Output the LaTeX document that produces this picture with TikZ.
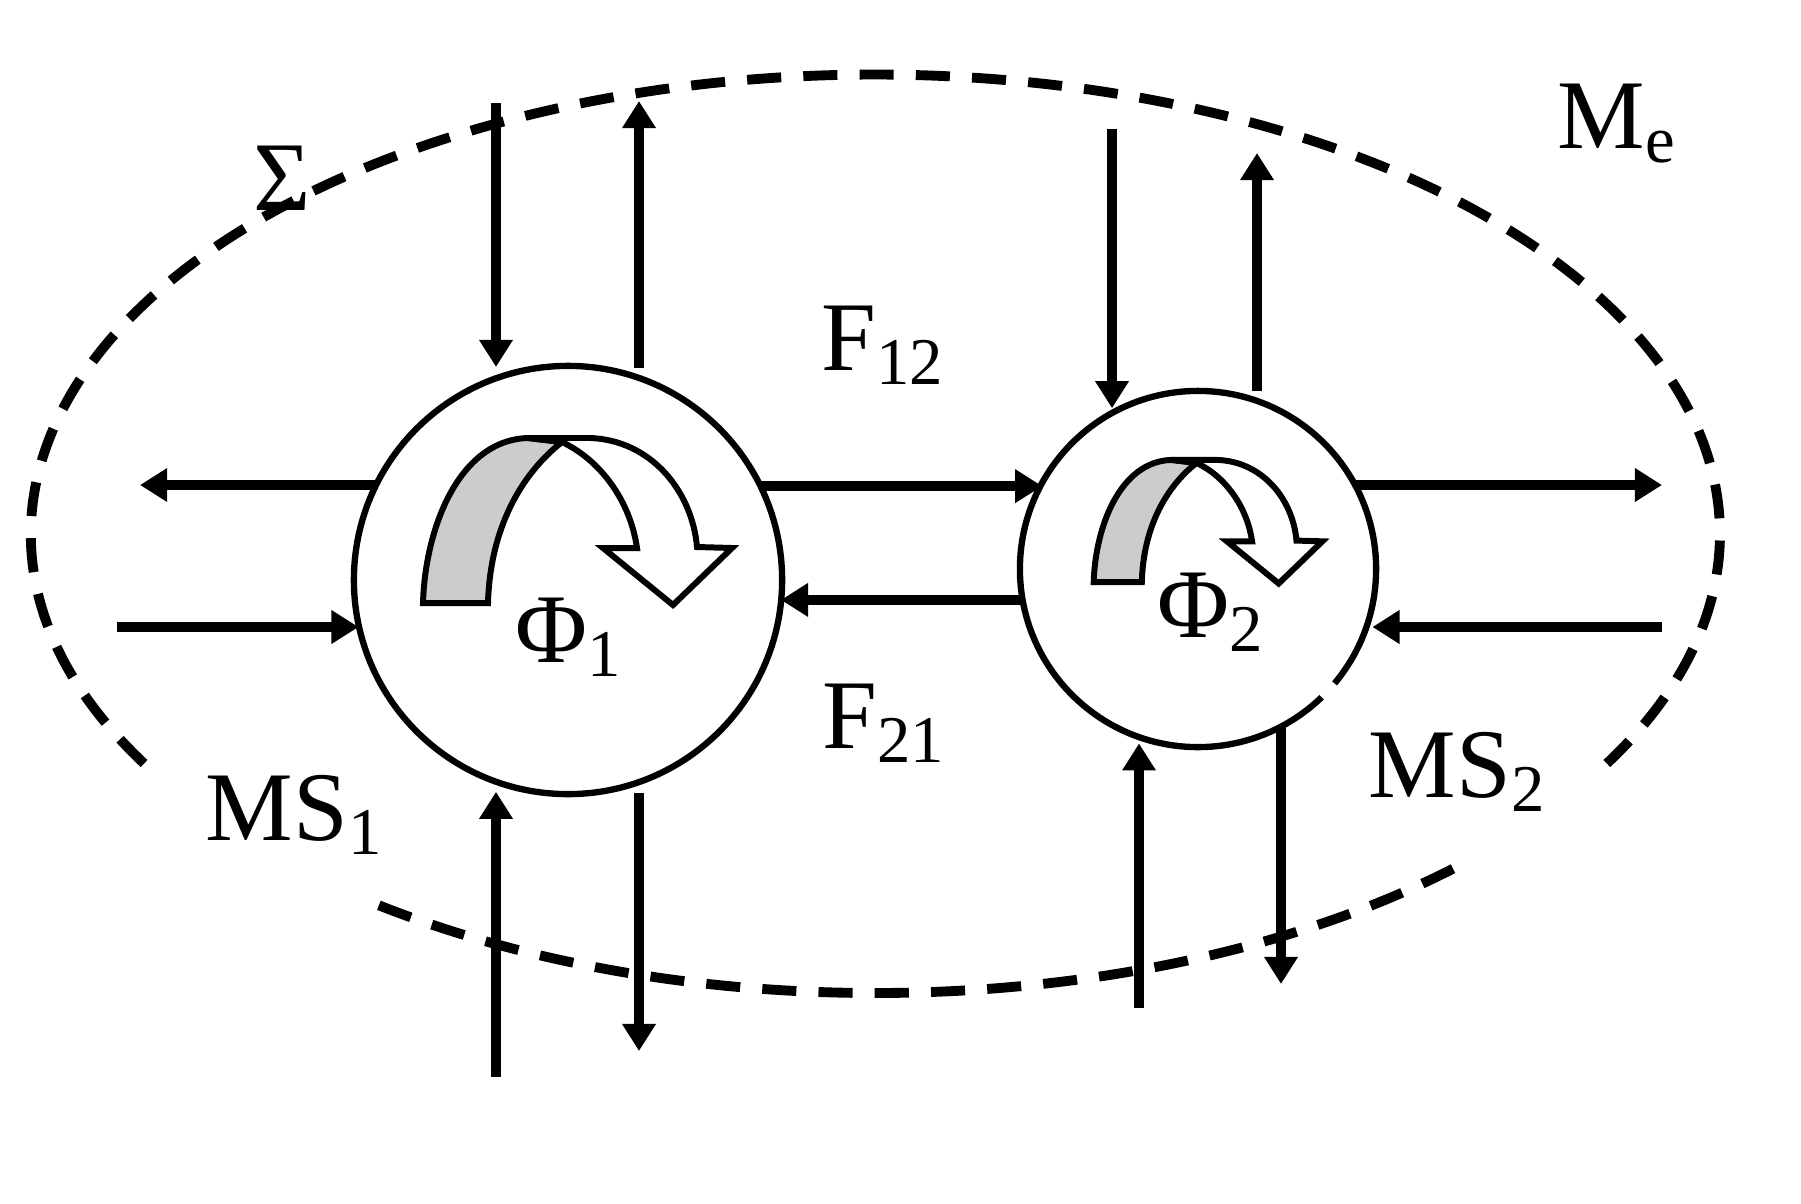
\documentclass[tikz,border=0pt]{standalone}
\usepackage{fontspec}
\setmainfont{Liberation Serif}
\usetikzlibrary{arrows.meta}
\definecolor{bandgray}{HTML}{CCCCCC}
\newcommand\sbs[1]{\raisebox{-0.14cm}{\fontsize{19}{22}\selectfont #1}}
\newcommand\twistarrow{%
  \filldraw[band, fill=bandgray] (-145,23) .. controls (-143,-50) and (-110,-140) .. (-40,-142) -- (-6,-138) .. controls (-48,-105) and (-78,-50) .. (-80,23) -- cycle;
  \filldraw[band, fill=white] (-40,-142) -- (22,-142) .. controls (82,-140) and (124,-90) .. (129,-33) -- (164,-32) -- (105,25) -- (35,-32) -- (69,-32) .. controls (62,-80) and (32,-120) .. (-6,-138) -- cycle;}
\begin{document}
\begin{tikzpicture}[x=0.01cm,y=-0.01cm,
  circ/.style={circle, draw, line width=1.8pt, inner sep=0pt, outer sep=0pt},
  arr/.style={line width=2.7pt, -{Triangle[length=7.7pt,width=9.1pt]}},
  band/.style={line width=1.7pt, line join=miter},
  sigma/.style={line width=2.8pt, dash pattern=on 9.7pt off 6.3pt},
  lab/.style={font=\fontsize{28}{34}\selectfont, inner sep=0pt, anchor=base west}]
\useasboundingbox (0,0) rectangle (1801,1203);
\fill[white] (0,0) rectangle (1801,1203);
% dashed boundary
\draw[sigma] (144.1,763.5) arc[start angle=210, end angle=-30, x radius=8.44cm, y radius=4.59cm];
\draw[sigma] (378.9,905.3) arc[start angle=234, end angle=314.7, x radius=8.44cm, y radius=4.59cm];
% subsystems
\node[circ, minimum size=4.28cm] (c1) at (568,580) {};
\node[circ, minimum size=3.56cm] (c2) at (1198,569) {};
\draw[white, line width=3pt] ([shift={(-46:1.78cm)}]c2.center) arc[start angle=-46, end angle=-40, radius=1.78cm];
% rotation arrows
\begin{scope}[shift={(568,580)}]
  \twistarrow
\end{scope}
\begin{scope}[shift={(1201,565)}, scale=0.74]
  \twistarrow
\end{scope}
% free ends
\coordinate (p1) at (496,103);
\coordinate (p2) at (639,101);
\coordinate (p3) at (140,485);
\coordinate (p4) at (117,627);
\coordinate (p5) at (496,1077);
\coordinate (p6) at (639,1051);
\coordinate (p7) at (1112,129);
\coordinate (p8) at (1257,153);
\coordinate (p9) at (1662,485);
\coordinate (p10) at (1662,627);
\coordinate (p11) at (1139,1008);
\coordinate (p12) at (1281,984);
% connectors of subsystem 1
\draw[arr, shorten >=3pt] (p1) -- (p1 |- c1.109.66);
\draw[arr, shorten <=3pt] (p2 |- c1.70.62) -- (p2);
\draw[arr] (p3 -| c1.153.65) -- (p3);
\draw[arr] (p4) -- (p4 -| c1.192.69);
\draw[arr, shorten >=3pt] (p5) -- (p5 |- c1.250.34);
\draw[arr, shorten <=3pt] (p6 |- c1.289.38) -- (p6);
% couplings
\draw[arr] (c1.26.35) -- (c1.26.35 -| c2.151.84);
\draw[arr] (c2.190.68) -- (c2.190.68 -| c1.354.1);
% connectors of subsystem 2
\draw[arr, shorten >=1pt] (p7) -- (p7 |- c2.118.89);
\draw[arr, shorten <=3pt] (p8 |- c2.70.64) -- (p8);
\draw[arr] (p9 -| c2.28.16) -- (p9);
\draw[arr, shorten >=2pt] (p10) -- (p10 -| c2.340.98);
\draw[arr, shorten >=2pt] (p11) -- (p11 |- c2.250.64);
\draw[arr] (p12 |- c2.297.79) -- (p12);
% labels
\node[lab] (lF12) at (821,370) {F\sbs{12}};
\node[lab] (lF21) at (822,748) {F\sbs{21}};
\node[lab] (lP1) at (515,662) {Φ\sbs{1}};
\node[lab] (lP2) at (1157,637) {Φ\sbs{2}};
\node[lab] (lMS1) at (205,840) {MS\sbs{1}};
\node[lab] (lMS2) at (1368,797) {MS\sbs{2}};
\node[lab] (lMe) at (1557,148) {M\sbs{e}};
\node[lab] (lS) at (253,210) {Σ};
\end{tikzpicture}
\end{document}
